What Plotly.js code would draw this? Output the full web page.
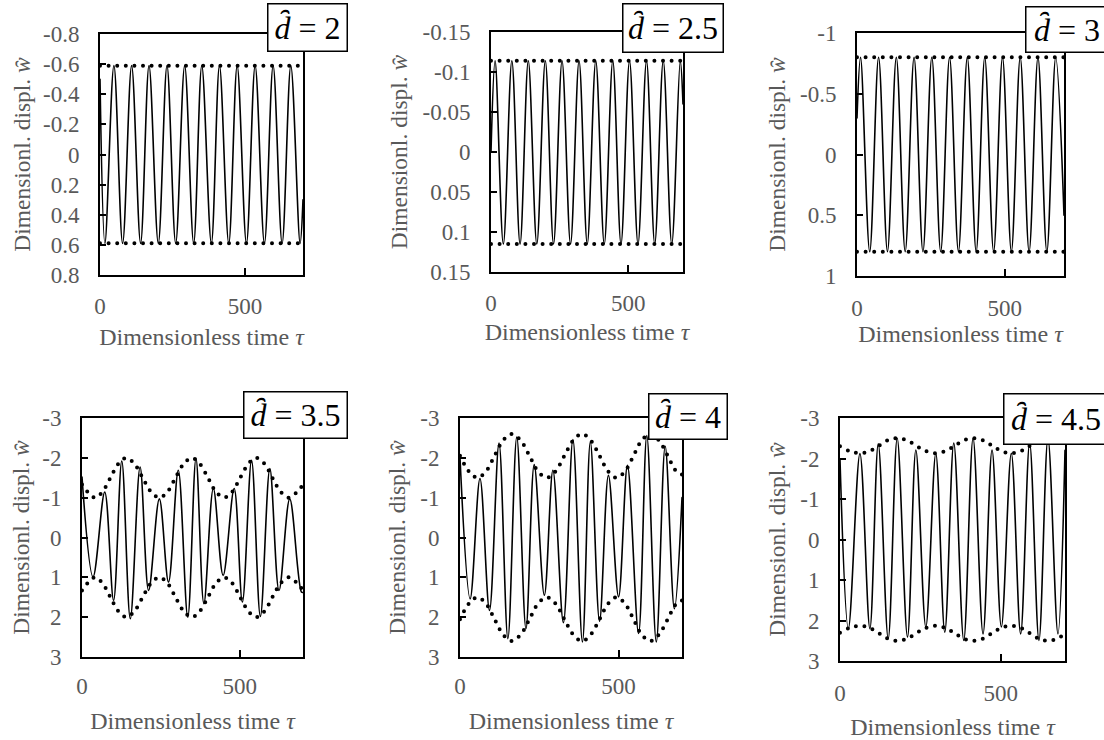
<!DOCTYPE html>
<html>
<head>
<meta charset="utf-8">
<script src="https://cdn.plot.ly/plotly-3.0.1.min.js"></script>
<style>
  html, body { margin: 0; padding: 0; background: #fff; }
  #chart { width: 1104px; height: 740px; }
  .js-line { stroke-linecap: round !important; stroke-linejoin: round !important; }
</style>
</head>
<body>
<div id="chart"></div>
<script>
// ---------- data ----------
// panel d = 2
const tauD2 = [0, 17, 48, 78, 109, 140, 169, 201, 231, 261, 292, 323, 351, 384, 412, 444, 473, 505, 535, 567, 597, 628, 658, 690, 700];
const wD2 = [-0.5, 0.59, -0.59, 0.59, -0.59, 0.59, -0.59, 0.59, -0.59, 0.59, -0.59, 0.59, -0.59, 0.59, -0.59, 0.59, -0.59, 0.59, -0.59, 0.59, -0.59, 0.59, -0.59, 0.59, 0.3];
const envTauD2 = [0, 700];
const envTopD2 = [-0.59, -0.59];
const envBotD2 = [0.59, 0.59];

// panel d = 2.5
const tauD25 = [0, 15, 45, 76, 106, 136, 167, 198, 228, 259, 290, 321, 351, 382, 413, 444, 474, 505, 536, 567, 597, 628, 659, 690, 700];
const wD25 = [0.0, -0.114, 0.115, -0.114, 0.115, -0.114, 0.115, -0.114, 0.115, -0.114, 0.115, -0.114, 0.115, -0.114, 0.115, -0.114, 0.115, -0.114, 0.115, -0.114, 0.115, -0.114, 0.115, -0.114, -0.06];
const envTauD25 = [0, 700];
const envTopD25 = [-0.114, -0.114];
const envBotD25 = [0.115, 0.115];

// panel d = 3
const tauD3 = [0, 12, 43, 73, 103, 133, 163, 193, 223, 253, 283, 313, 343, 373, 403, 432, 462, 492, 522, 552, 582, 612, 642, 672, 700];
const wD3 = [-0.3, -0.8, 0.8, -0.8, 0.8, -0.8, 0.8, -0.8, 0.8, -0.8, 0.8, -0.8, 0.8, -0.8, 0.8, -0.8, 0.8, -0.8, 0.8, -0.8, 0.8, -0.8, 0.8, -0.8, 0.5];
const envTauD3 = [0, 700];
const envTopD3 = [-0.8, -0.8];
const envBotD3 = [0.8, 0.8];

// panel d = 3.5
const tauD35 = [0, 35, 72, 100, 126, 153, 184, 211, 245, 274, 305, 335, 361, 386, 416, 447, 482, 508, 537, 565, 595, 624, 658, 695, 700];
const wD35 = [-1.52, 0.99, -1.14, 1.58, -1.92, 2.04, -1.77, 1.33, -0.97, 1.12, -1.69, 2.0, -1.98, 1.66, -1.23, 0.95, -1.23, 1.62, -1.94, 1.98, -1.73, 1.33, -0.97, 1.37, 1.38];
const envTauD35 = [0, 40, 65, 90, 115, 140, 166, 192, 218, 245, 271, 296, 322, 348, 373, 399, 424, 450, 476, 501, 527, 552, 578, 603, 629, 655, 678, 700];
const envTopD35 = [-1.33, -1.0, -1.15, -1.5, -1.85, -2.0, -1.85, -1.5, -1.15, -1.0, -1.15, -1.5, -1.85, -2.0, -1.85, -1.5, -1.15, -1.0, -1.15, -1.5, -1.85, -2.0, -1.85, -1.5, -1.15, -1.0, -1.12, -1.32];
const envBotD35 = [1.33, 1.0, 1.15, 1.5, 1.85, 2.0, 1.85, 1.5, 1.15, 1.0, 1.15, 1.5, 1.85, 2.0, 1.85, 1.5, 1.15, 1.0, 1.15, 1.5, 1.85, 2.0, 1.85, 1.5, 1.15, 1.0, 1.12, 1.32];

// panel d = 4
const tauD4 = [0, 32, 63, 93, 123, 151, 179, 208, 234, 266, 293, 326, 356, 386, 411, 440, 468, 500, 528, 563, 589, 619, 647, 676, 700];
const wD4 = [-2.0, 1.54, -1.48, 1.83, -2.37, 2.54, -2.52, 2.29, -1.83, 1.45, -1.69, 2.14, -2.46, 2.62, -2.4, 2.1, -1.56, 1.49, -1.81, 2.41, -2.56, 2.62, -2.29, 1.79, -1.0];
const envTauD4 = [0, 28, 55, 82, 109, 136, 163, 191, 219, 246, 274, 301, 329, 357, 385, 412, 440, 467, 494, 520, 547, 573, 600, 627, 655, 682, 700];
const envTopD4 = [-2.05, -1.66, -1.5, -1.66, -2.05, -2.44, -2.6, -2.44, -2.05, -1.66, -1.5, -1.66, -2.05, -2.44, -2.6, -2.44, -2.05, -1.66, -1.5, -1.66, -2.05, -2.44, -2.6, -2.44, -2.05, -1.66, -1.58];
const envBotD4 = [2.05, 1.66, 1.5, 1.66, 2.05, 2.44, 2.6, 2.44, 2.05, 1.66, 1.5, 1.66, 2.05, 2.44, 2.6, 2.44, 2.05, 1.66, 1.5, 1.66, 2.05, 2.44, 2.6, 2.44, 2.05, 1.66, 1.58];

// panel d = 4.5
const tauD45 = [0, 26, 62, 93, 119, 150, 178, 210, 236, 267, 298, 326, 354, 385, 414, 445, 473, 502, 533, 562, 590, 619, 647, 678, 700];
const wD45 = [-1.97, 2.2, -2.12, 2.2, -2.36, 2.45, -2.5, 2.41, -2.21, 2.16, -2.12, 2.29, -2.38, 2.49, -2.5, 2.33, -2.21, 2.16, -2.13, 2.33, -2.39, 2.49, -2.5, 2.33, -2.2];
const envTauD45 = [0, 31, 62, 91, 120, 149, 178, 208, 238, 268, 298, 327, 356, 385, 414, 444, 474, 503, 533, 562, 590, 619, 647, 674, 700];
const envTopD45 = [-2.3, -2.18, -2.13, -2.18, -2.31, -2.45, -2.5, -2.45, -2.31, -2.18, -2.13, -2.18, -2.31, -2.45, -2.5, -2.45, -2.31, -2.18, -2.13, -2.18, -2.31, -2.45, -2.5, -2.45, -2.33];
const envBotD45 = [2.3, 2.18, 2.13, 2.18, 2.31, 2.45, 2.5, 2.45, 2.31, 2.18, 2.13, 2.18, 2.31, 2.45, 2.5, 2.45, 2.31, 2.18, 2.13, 2.18, 2.31, 2.45, 2.5, 2.45, 2.33];

// tick labels
const xTickVals = [0, 500];
const xTickText = ['0', '500'];
const yTickValsD2 = [-0.8, -0.6, -0.4, -0.2, 0, 0.2, 0.4, 0.6, 0.8];
const yTickTextD2 = ['-0.8', '-0.6', '-0.4', '-0.2', '0', '0.2', '0.4', '0.6', '0.8'];
const yTickValsD25 = [-0.15, -0.1, -0.05, 0, 0.05, 0.1, 0.15];
const yTickTextD25 = ['-0.15', '-0.1', '-0.05', '0', '0.05', '0.1', '0.15'];
const yTickValsD3 = [-1, -0.5, 0, 0.5, 1];
const yTickTextD3 = ['-1', '-0.5', '0', '0.5', '1'];
const yTickValsBig = [-3, -2, -1, 0, 1, 2, 3];
const yTickTextBig = ['-3', '-2', '-1', '0', '1', '2', '3'];

const panelLabels = ['2', '2.5', '3', '3.5', '4', '4.5'];
const xTitleText = 'Dimensionless time <i>τ</i>';
const yTitleText = 'Dimensionl. displ. <i>w\u0311</i>';

// ---------- layout helpers ----------
const W = 1104, H = 740;
const FONT = 'Liberation Serif, "Times New Roman", serif';
const GREY = '#595959';

// pixel boxes of each plot area [left, right, top, bottom]
const boxes = [
  [100, 303, 34, 275],
  [491, 683, 32, 272],
  [857, 1064, 33, 276],
  [82, 303, 418, 657],
  [460, 682, 418, 657],
  [840, 1065, 418, 661]
];
// per-panel spacing: [x tick label standoff, x title standoff, y title standoff]
const spacing = [
  [9, 11, 6],
  [9, 9, 8],
  [10, 4, 8],
  [7, 15, 6],
  [7, 15, 8],
  [10, 25, 8]
];
// label boxes [left, top, width, height]
const labelBoxes = [
  [267, 3, 81, 49],
  [622, 3, 102, 50],
  [1025, 6, 84, 47],
  [243, 391, 105, 48],
  [648, 393, 80, 47],
  [1003, 393, 106, 52]
];

const panels = [
  {tau: tauD2, w: wD2, et: envTauD2, top: envTopD2, bot: envBotD2, range: [0.8, -0.8], tv: yTickValsD2, tt: yTickTextD2},
  {tau: tauD25, w: wD25, et: envTauD25, top: envTopD25, bot: envBotD25, range: [0.15, -0.15], tv: yTickValsD25, tt: yTickTextD25},
  {tau: tauD3, w: wD3, et: envTauD3, top: envTopD3, bot: envBotD3, range: [1, -1], tv: yTickValsD3, tt: yTickTextD3},
  {tau: tauD35, w: wD35, et: envTauD35, top: envTopD35, bot: envBotD35, range: [3, -3], tv: yTickValsBig, tt: yTickTextBig},
  {tau: tauD4, w: wD4, et: envTauD4, top: envTopD4, bot: envBotD4, range: [3, -3], tv: yTickValsBig, tt: yTickTextBig},
  {tau: tauD45, w: wD45, et: envTauD45, top: envTopD45, bot: envBotD45, range: [3, -3], tv: yTickValsBig, tt: yTickTextBig}
];

const data = [];
const layout = {
  width: W, height: H,
  margin: {l: 0, r: 0, t: 0, b: 0},
  paper_bgcolor: '#fff', plot_bgcolor: '#fff',
  showlegend: false, hovermode: false,
  font: {family: FONT, size: 23, color: GREY},
  annotations: []
};

panels.forEach((p, i) => {
  const n = i + 1;
  const xa = 'x' + (n === 1 ? '' : n);
  const ya = 'y' + (n === 1 ? '' : n);
  const b = boxes[i];
  const s = spacing[i];
  data.push({x: p.tau, y: p.w, xaxis: xa, yaxis: ya, type: 'scatter', mode: 'lines',
    line: {color: '#000', width: 1.6, shape: 'spline', smoothing: 1}});
  data.push({x: p.et, y: p.top, xaxis: xa, yaxis: ya, type: 'scatter', mode: 'lines',
    line: {color: '#000', width: 4, shape: 'spline', smoothing: 1, dash: '0px,8.6px'}});
  data.push({x: p.et, y: p.bot, xaxis: xa, yaxis: ya, type: 'scatter', mode: 'lines',
    line: {color: '#000', width: 4, shape: 'spline', smoothing: 1, dash: '0px,8.6px'}});

  layout['xaxis' + (n === 1 ? '' : n)] = {
    domain: [b[0] / W, b[1] / W], anchor: ya, range: [0, 700],
    showgrid: false, zeroline: false, showline: true, mirror: true,
    linecolor: '#000', linewidth: 2,
    ticks: 'inside', ticklen: 7, tickwidth: 2, tickcolor: '#000',
    tickmode: 'array', tickvals: xTickVals, ticktext: xTickText,
    ticklabelstandoff: s[0],
    tickfont: {family: FONT, size: 23, color: GREY},
    title: {text: xTitleText, font: {family: FONT, size: 24, color: GREY}, standoff: s[1]}
  };
  layout['yaxis' + (n === 1 ? '' : n)] = {
    domain: [(H - b[3]) / H, (H - b[2]) / H], anchor: xa, range: p.range,
    showgrid: false, zeroline: false, showline: true, mirror: true,
    linecolor: '#000', linewidth: 2,
    ticks: 'inside', ticklen: 6, tickwidth: 2, tickcolor: '#000',
    tickmode: 'array', tickvals: p.tv, ticktext: p.tt,
    ticklabelstandoff: 14,
    tickfont: {family: FONT, size: 23, color: GREY},
    title: {text: yTitleText, font: {family: FONT, size: 23.5, color: GREY}, standoff: s[2]}
  };

  const lb = labelBoxes[i];
  layout.annotations.push({
    xref: 'paper', yref: 'paper',
    x: lb[0] / W, y: (H - lb[1]) / H, xanchor: 'left', yanchor: 'top',
    width: lb[2] - 2 * 1.5 - 2 * 2, height: lb[3] - 2 * 1.5 - 2 * 2,
    align: 'center', valign: 'middle',
    text: '<i>d\u0311</i> = ' + panelLabels[i],
    showarrow: false, font: {family: FONT, size: 32, color: '#000'},
    bgcolor: '#fff', bordercolor: '#000', borderwidth: 1.5, borderpad: 2
  });
});

Plotly.newPlot('chart', data, layout, {staticPlot: true, displayModeBar: false});
</script>
</body>
</html>
